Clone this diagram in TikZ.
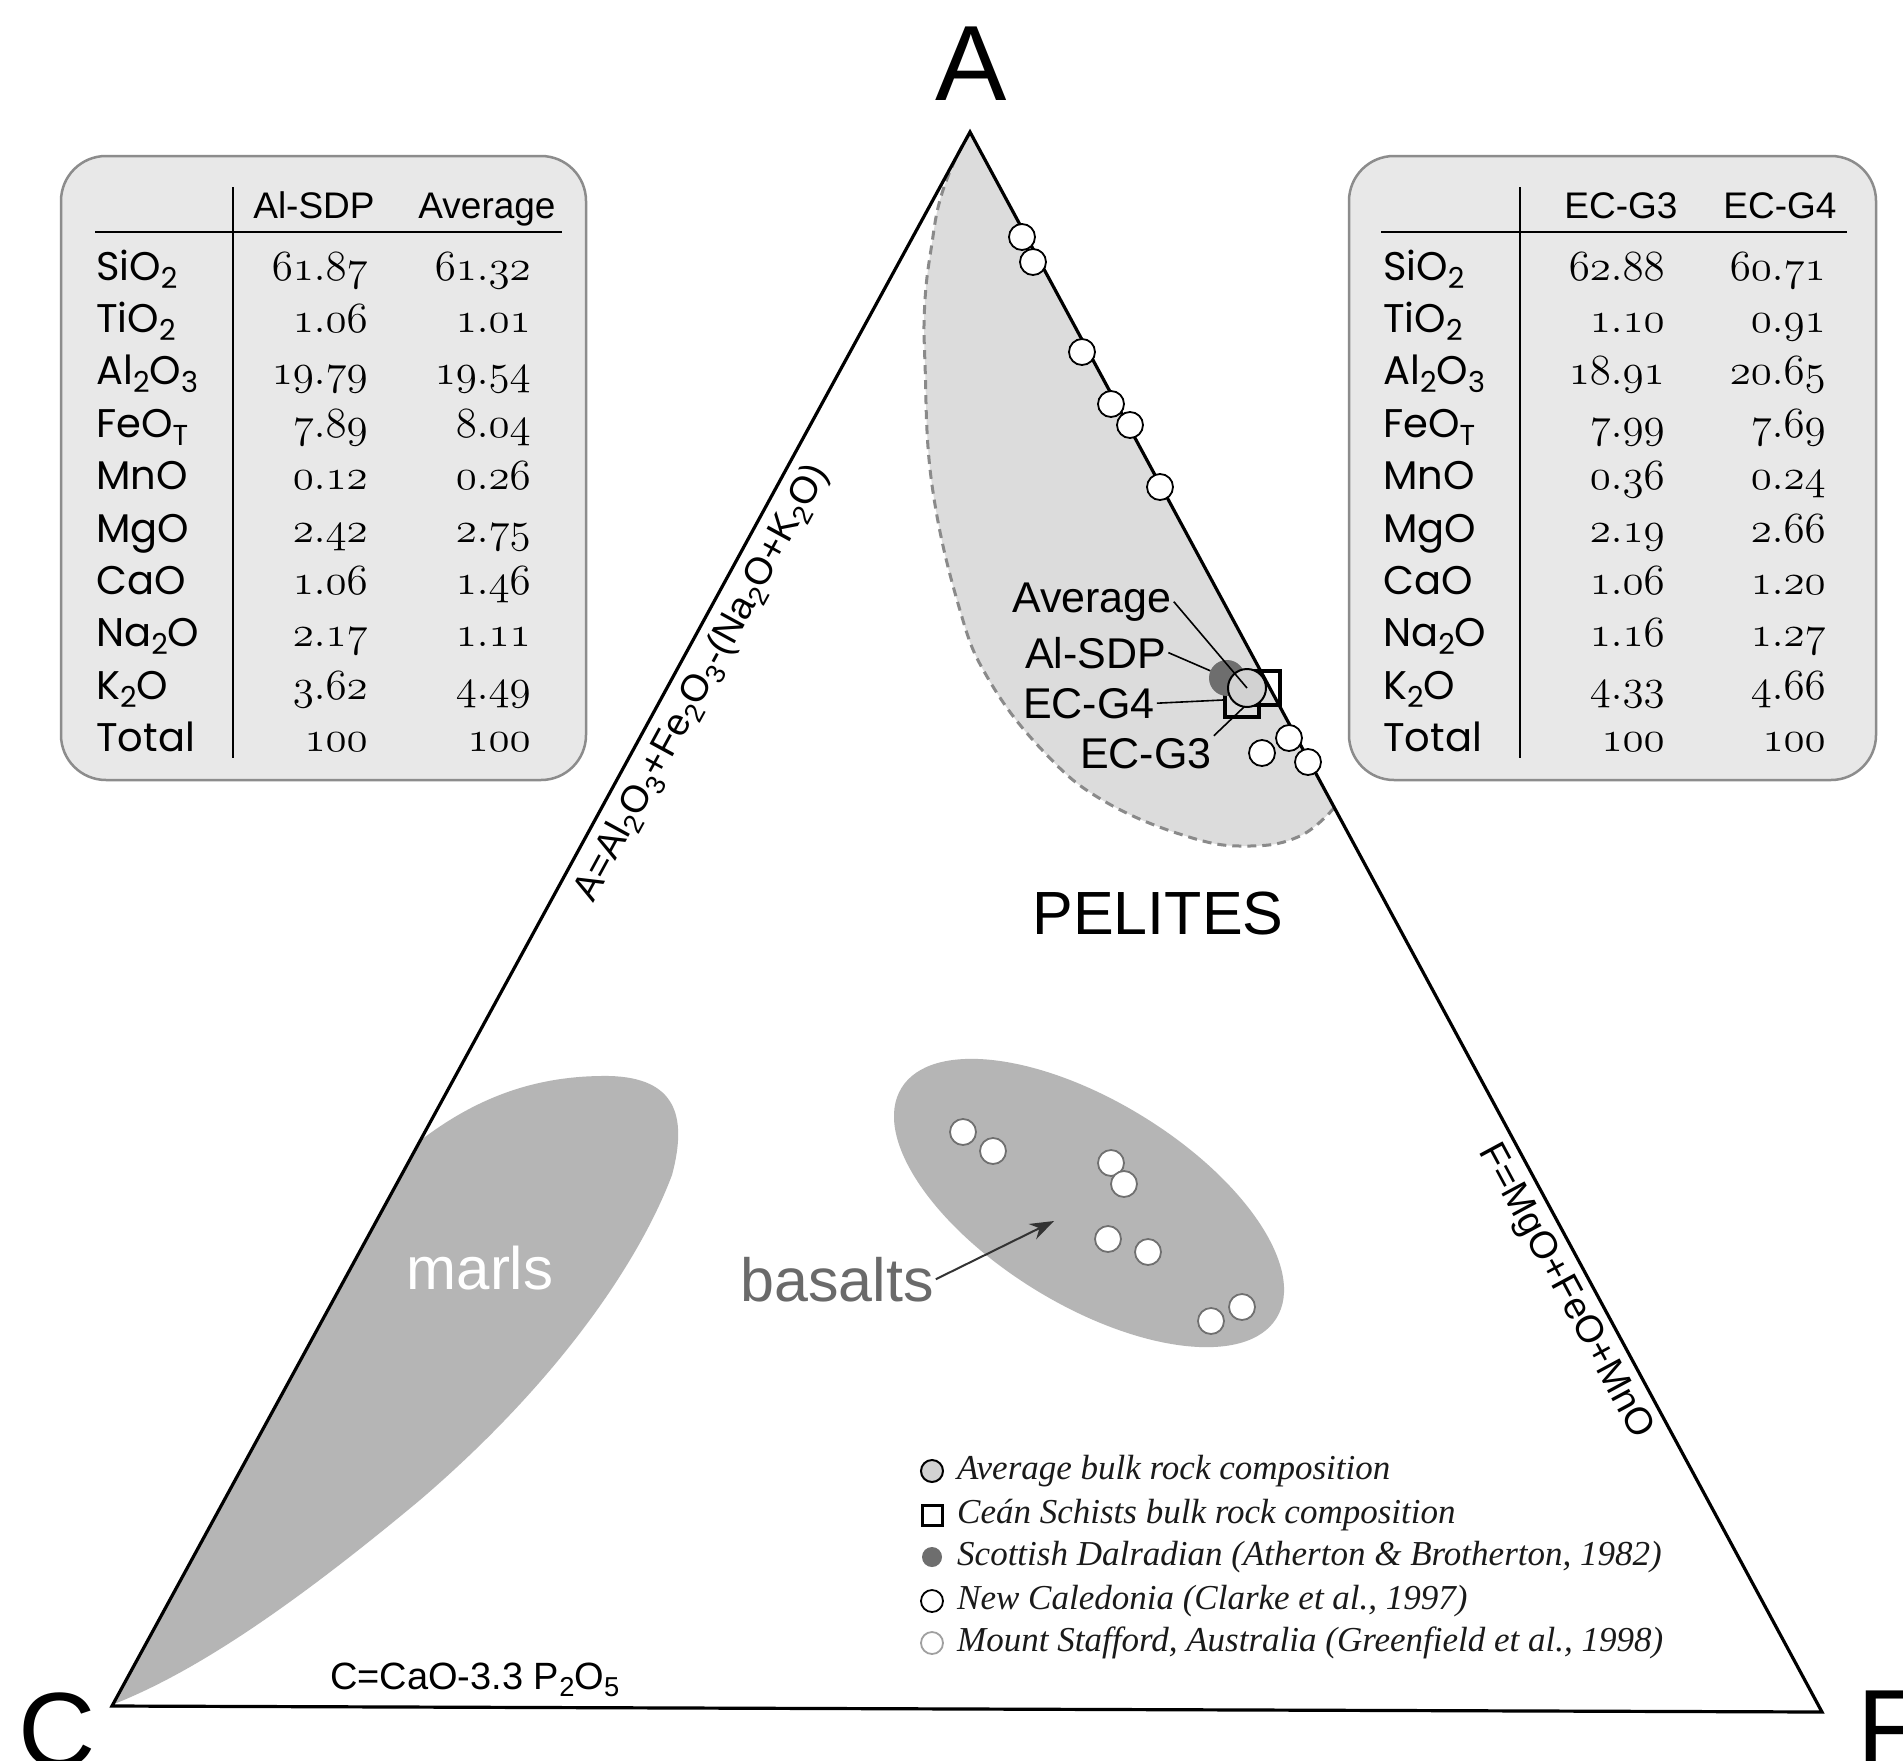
\RequirePackage{fix-cm}
\documentclass[tikz,border=0pt]{standalone}
\usepackage{fontspec}
\setmainfont{Liberation Serif}
\newfontfamily\arial{Liberation Sans}
\newfontfamily\comic{Poppins}
\usetikzlibrary{arrows.meta}
\newcommand\osn[1]{{\usefont{OML}{cmm}{m}{it}#1}}
\newcommand\sbs[1]{\raisebox{-0.2em}{\scalebox{0.72}{#1}}}
\definecolor{boxfill}{HTML}{E8E8E8}
\definecolor{boxline}{HTML}{8C8C8C}
\definecolor{pelfill}{HTML}{DCDCDC}
\definecolor{blobfill}{HTML}{B5B5B5}
\definecolor{dalrad}{HTML}{6E6E6E}
\definecolor{avgfill}{HTML}{D2D2D2}
\definecolor{dashc}{HTML}{8A8A8A}
\definecolor{bastext}{HTML}{6A6A6A}
\definecolor{arrowc}{HTML}{333333}
\definecolor{msline}{HTML}{707070}
\definecolor{mslight}{HTML}{A0A0A0}
\definecolor{legc}{HTML}{1A1A1A}
\begin{document}
\begin{tikzpicture}[x=1pt,y=-1pt,
  tablebox/.style={draw=boxline, fill=boxfill, line width=2.5, rounded corners=45},
  hdr/.style={anchor=base, font=\arial\fontsize{37}{44}\selectfont, inner sep=0},
  lbl/.style={anchor=base west, font=\comic\fontsize{40}{48}\selectfont, inner sep=0},
  num/.style={anchor=base east, font=\fontsize{43}{50}\selectfont, inner sep=0},
  ncpt/.style={circle, draw=black, fill=white, line width=1.8, minimum size=26, inner sep=0},
  mspt/.style={circle, draw=msline, fill=white, line width=1.8, minimum size=26, inner sep=0},
  avgpt/.style={circle, draw=black, fill=avgfill, line width=2, minimum size=38, inner sep=0},
  sdppt/.style={circle, fill=dalrad, minimum size=36, inner sep=0},
  ecsq/.style={rectangle, draw=black, line width=4, minimum size=34, inner sep=0},
  leader/.style={line width=1.6, black},
  pel/.style={anchor=base west, font=\arial\fontsize{43}{50}\selectfont, inner sep=2},
  vtx/.style={font=\arial\fontsize{107}{120}\selectfont, inner sep=0},
  axlab/.style={font=\arial\fontsize{38}{44}\selectfont, inner sep=0},
  legtxt/.style={anchor=west, font=\itshape\fontsize{35}{42}\selectfont, text=legc, inner sep=0}
]
\fill[white] (0,0) rectangle (1903,1761);
\useasboundingbox (0,0) rectangle (1903,1761);

% vertices
\coordinate (vA) at (970,132);
\coordinate (vC) at (112,1706);
\coordinate (vF) at (1822,1712);

% pelites field
\fill[pelfill] (vA) -- (1334,808) -- plot[smooth, tension=0.7] coordinates {(1334,808) (1300,836) (1250,846) (1189,837) (1104,801) (1044,752) (989,680) (959,607) (932,485) (925,364) (925,300) (932,243) (940,200) (955,160) (970,133)} -- cycle;
\draw[dashc, line width=3, dash pattern=on 9pt off 6pt] plot[smooth, tension=0.7] coordinates {(970,133) (955,160) (940,200) (932,243) (925,300) (925,364) (932,485) (959,607) (989,680) (1044,752) (1104,801) (1189,837) (1250,846) (1300,836) (1334,808)};

% marls field
\fill[blobfill] (114,1704) -- (421,1140) .. controls (480,1095) and (540,1075) .. (610,1076) .. controls (675,1078) and (688,1115) .. (672,1175) .. controls (640,1260) and (560,1380) .. (420,1500) .. controls (300,1600) and (200,1670) .. (114,1704) -- cycle;

% basalts field
\fill[blobfill, rotate around={-31.5:(1089,1203)}] (1089,1203) ellipse [x radius=220pt, y radius=102pt];

% triangle
\draw[line width=3.2, line join=miter] (vA) -- (vF) -- (vC) -- cycle;

% vertex labels
\node[vtx, anchor=base] (labA) at (971,100) {A};
\node[vtx, anchor=base] (labC) at (57,1767) {C};
\node[vtx, anchor=base west] (labF) at (1857,1764) {F};

% axis labels
\node[axlab, rotate=61.4] (axA) at (702,683) {A=Al\sbs{2}O\sbs{3}+Fe\sbs{2}O\sbs{3}-(Na\sbs{2}O+K\sbs{2}O)};
\node[axlab, rotate=-61.7] (axF) at (1565,1292) {F=MgO+FeO+MnO};
\node[axlab, anchor=base west] (axC) at (330,1689) {C=CaO-3.3 P\sbs{2}O\sbs{5}};

% field names
\node[font=\arial\fontsize{61}{70}\selectfont, anchor=base, inner sep=0] (pelites) at (1158,934) {PELITES};
\node[font=\arial\fontsize{60}{70}\selectfont, text=white, anchor=base, inner sep=0] (marls) at (480,1289) {marls};
\node[font=\arial\fontsize{61}{70}\selectfont, text=bastext, anchor=base, inner sep=2] (basalts) at (837,1301) {basalts};
\coordinate (bastip) at (1054,1221);
\draw[arrowc, line width=2, -{Stealth[length=24pt, width=17pt]}] (basalts.east) -- (bastip);

% basalt points
\node[mspt] (b1) at (963,1132) {};
\node[mspt] (b2) at (993,1151) {};
\node[mspt] (b3) at (1111,1163) {};
\node[mspt] (b4) at (1124,1184) {};
\node[mspt] (b5) at (1108,1239) {};
\node[mspt] (b6) at (1148,1252) {};
\node[mspt] (b7) at (1211,1321) {};
\node[mspt] (b8) at (1242,1307) {};

% pelite points (New Caledonia)
\node[ncpt] (p1) at (1022,237) {};
\node[ncpt] (p2) at (1033,262) {};
\node[ncpt] (p3) at (1082,352) {};
\node[ncpt] (p4) at (1111,404) {};
\node[ncpt] (p5) at (1130,425) {};
\node[ncpt] (p6) at (1160,487) {};
\node[ncpt] (p7) at (1289,738) {};
\node[ncpt] (p8) at (1308,762) {};
\node[ncpt] (p9) at (1262,753) {};

% composition symbols
\node[ecsq] (ecg4) at (1242,700) {};
\node[ecsq] (ecg3) at (1263,688) {};
\node[sdppt] (sdp) at (1227,678) {};
\node[avgpt] (avg) at (1247,688) {};

% pelite labels
\node[pel] (lavg) at (1010,612) {Average};
\node[pel] (lsdp) at (1023,668) {Al-SDP};
\node[pel] (lg4) at (1021,718) {EC-G4};
\node[pel] (lg3) at (1078,768) {EC-G3};
\draw[leader] (lavg.east) -- (avg.center);
\draw[leader] (lsdp.east) -- (sdp);
\draw[leader] (lg4.east) -- (ecg4.west);
\draw[leader] (lg3.north east) -- (ecg3.south west);

% left table
\draw[tablebox] (61,156) rectangle (586,780);
\draw[line width=2.2] (233,187) -- (233,758);
\draw[line width=2.2] (95,232) -- (562,232);
\node[hdr] (lth1) at (314,218) {Al-SDP};
\node[hdr] (lth2) at (487,218) {Average};
% right table
\draw[tablebox] (1349,156) rectangle (1876,780);
\draw[line width=2.2] (1520,187) -- (1520,758);
\draw[line width=2.2] (1381,232) -- (1847,232);
\node[hdr] (rth1) at (1621,218) {EC-G3};
\node[hdr] (rth2) at (1780,218) {EC-G4};

\foreach \i/\lab/\a/\b/\c/\d in {
0/{SiO\sbs{2}}/61:87/61:32/62:88/60:71,
1/{TiO\sbs{2}}/1:06/1:01/1:10/0:91,
2/{Al\sbs{2}O\sbs{3}}/19:79/19:54/18:91/20:65,
3/{FeO\sbs{T}}/7:89/8:04/7:99/7:69,
4/MnO/0:12/0:26/0:36/0:24,
5/MgO/2:42/2:75/2:19/2:66,
6/CaO/1:06/1:46/1:06/1:20,
7/{Na\sbs{2}O}/2:17/1:11/1:16/1:27,
8/{K\sbs{2}O}/3:62/4:49/4:33/4:66,
9/Total/100/100/100/100}{
  \pgfmathsetmacro\yy{280+52.4*\i}
  \node[lbl] (ltl\i) at (96,\yy) {\lab};
  \node[num] (lta\i) at (368,\yy) {\osn{\a}};
  \node[num] (ltb\i) at (531,\yy) {\osn{\b}};
  \node[lbl] (rtl\i) at (1383,\yy) {\lab};
  \node[num] (rta\i) at (1665,\yy) {\osn{\c}};
  \node[num] (rtb\i) at (1826,\yy) {\osn{\d}};
}

% legend
\node[circle, draw=black, fill=avgfill, line width=2, minimum size=22, inner sep=0] (ls1) at (932,1471) {};
\node[rectangle, draw=black, line width=3, minimum size=20, inner sep=0] (ls2) at (932,1515) {};
\node[circle, fill=dalrad, minimum size=20, inner sep=0] (ls3) at (932,1557) {};
\node[circle, draw=black, fill=white, line width=1.8, minimum size=22, inner sep=0] (ls4) at (932,1601) {};
\node[circle, draw=mslight, fill=white, line width=1.8, minimum size=22, inner sep=0] (ls5) at (932,1643) {};
\node[legtxt] (lt1) at (957,1471) {Average bulk rock composition};
\node[legtxt] (lt2) at (957,1515) {Ceán Schists bulk rock composition};
\node[legtxt] (lt3) at (957,1557) {Scottish Dalradian (Atherton \& Brotherton, 1982)};
\node[legtxt] (lt4) at (957,1601) {New Caledonia (Clarke et al., 1997)};
\node[legtxt] (lt5) at (957,1643) {Mount Stafford, Australia (Greenfield et al., 1998)};
\end{tikzpicture}
\end{document}
